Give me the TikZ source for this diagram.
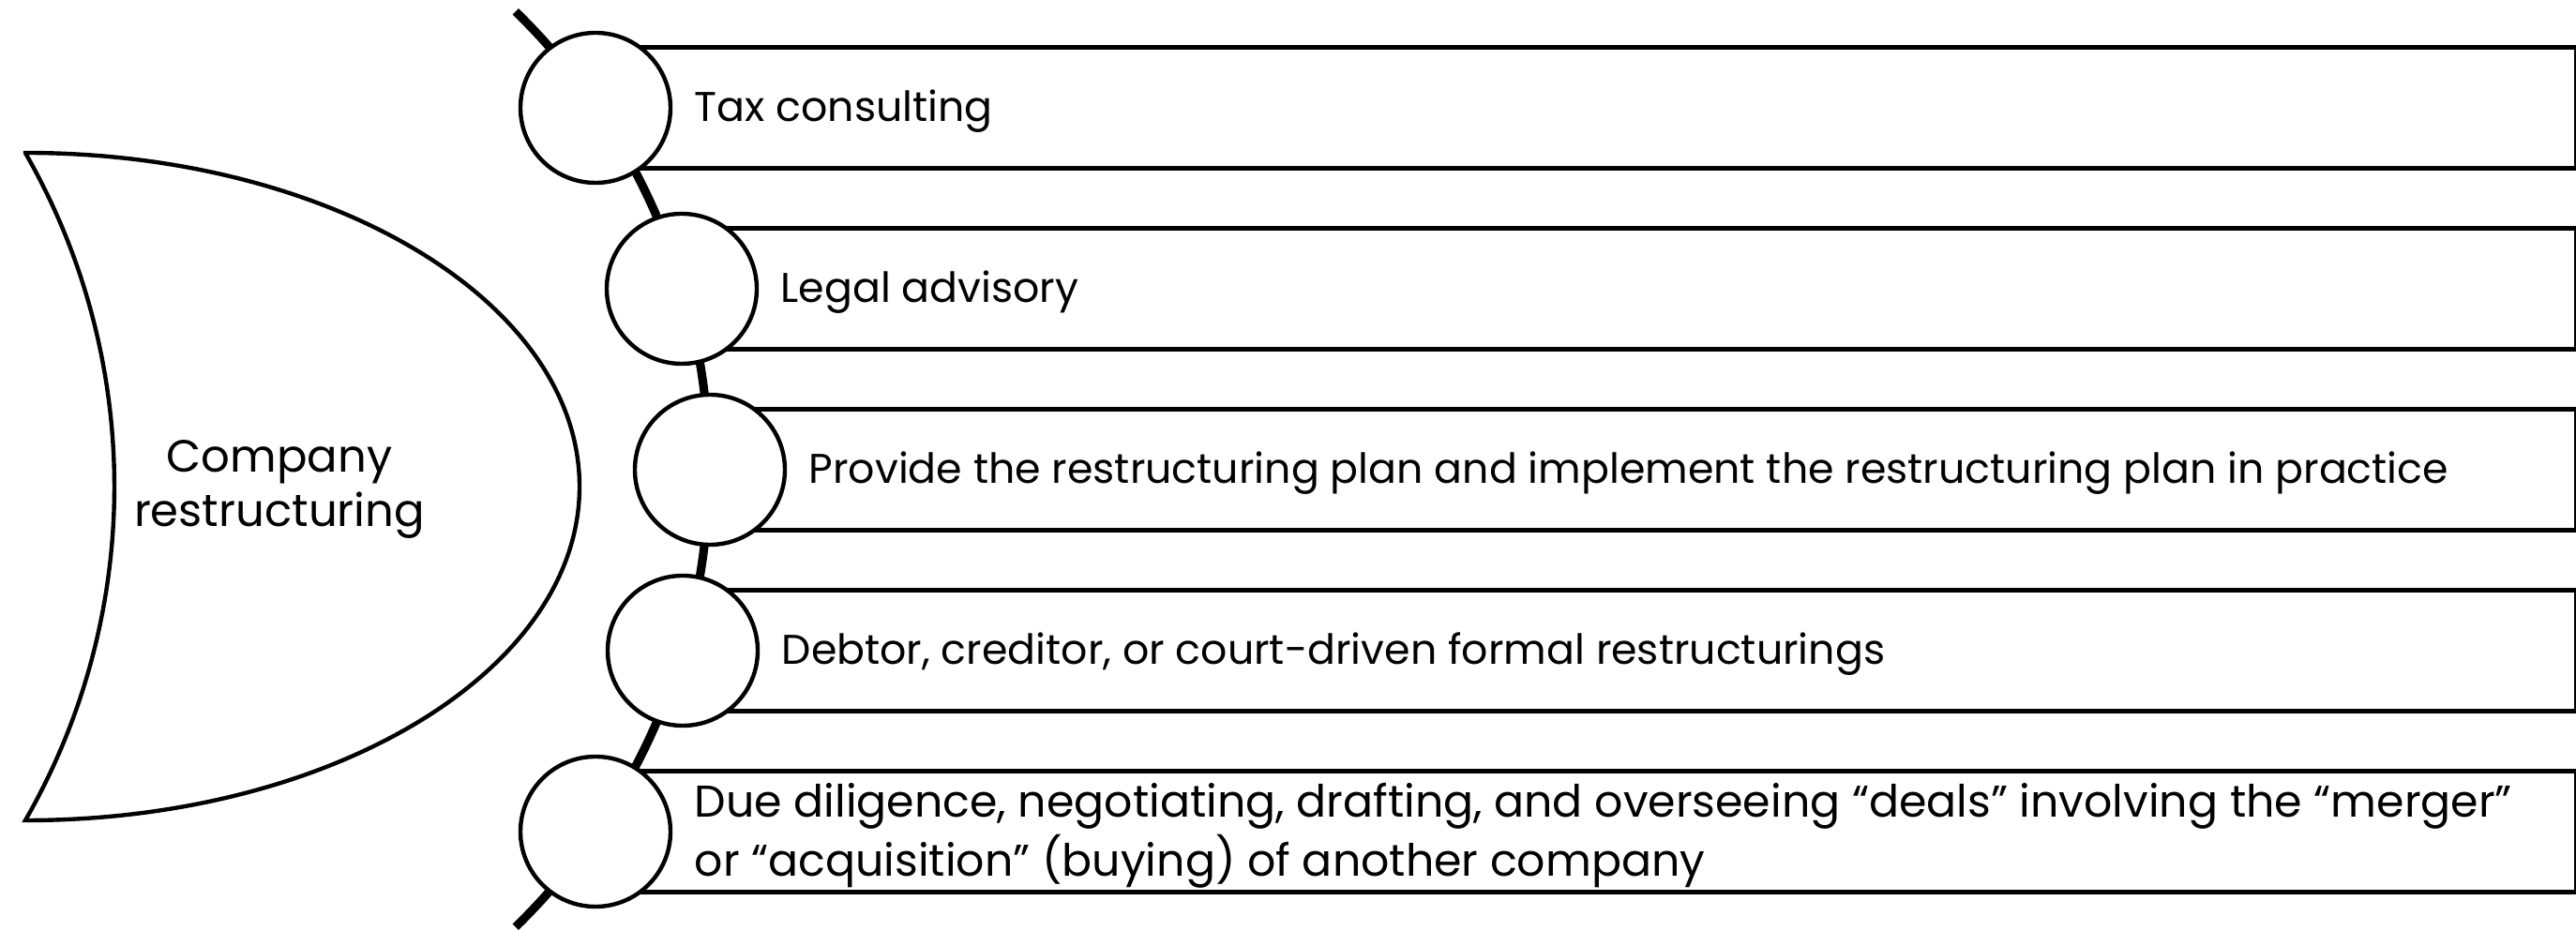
\documentclass[tikz,border=0pt]{standalone}
\usepackage{fontspec}
\setmainfont{Poppins}

\begin{document}
\begin{tikzpicture}[
  itembox/.style={draw, line width=1.45pt, minimum height=1.284cm, inner sep=0pt, anchor=west},
  itemdot/.style={circle, draw, line width=1.25pt, fill=white, minimum size=1.60cm, inner sep=0pt},
  itemtext/.style={anchor=west, inner sep=0pt, align=left, yshift=-0.04cm, font=\fontsize{12.6}{17.9}\selectfont},
  hubtext/.style={align=center, inner sep=0pt, font=\fontsize{13.7}{16.4}\selectfont}
]
\useasboundingbox (0,0) rectangle (27.47,9.93);
% spine behind the dots
\draw[line width=2.6pt] (0.75,4.925) ++(45.8:6.81) arc[start angle=45.8, end angle=-45.8, radius=6.81];
% left shape
\draw[line width=1.25pt] (0.27,8.30) arc[start angle=90, end angle=-90, x radius=5.91, y radius=3.56]
   arc[start angle=-29.88, end angle=29.88, radius=7.145] -- cycle;
\node[hubtext] (hub) at (2.98,4.71) {Company\\restructuring};
% boxes, then dots on top
\foreach \i/\x/\y in {1/6.35/8.78, 2/7.27/6.85, 3/7.57/4.92, 4/7.28/2.99, 5/6.35/1.06}
   \node[itembox, minimum width=27.45cm-\x cm] (b\i) at (\x,\y) {};
\foreach \i in {1,...,5}
   \node[itemdot] (c\i) at (b\i.west) {};
\node[itemtext] (t1) at ([xshift=1.05cm]b1.west) {Tax consulting};
\node[itemtext] (t2) at ([xshift=1.05cm]b2.west) {Legal advisory};
\node[itemtext] (t3) at ([xshift=1.05cm]b3.west) {Provide the restructuring plan and implement the restructuring plan in practice};
\node[itemtext] (t4) at ([xshift=1.05cm]b4.west) {Debtor, creditor, or court-driven formal restructurings};
\node[itemtext, font=\fontsize{13.5}{17.9}\selectfont] (t5) at ([xshift=1.05cm]b5.west) {Due diligence, negotiating, drafting, and overseeing “deals” involving the “merger”\\or “acquisition” (buying) of another company};
\end{tikzpicture}
\end{document}
